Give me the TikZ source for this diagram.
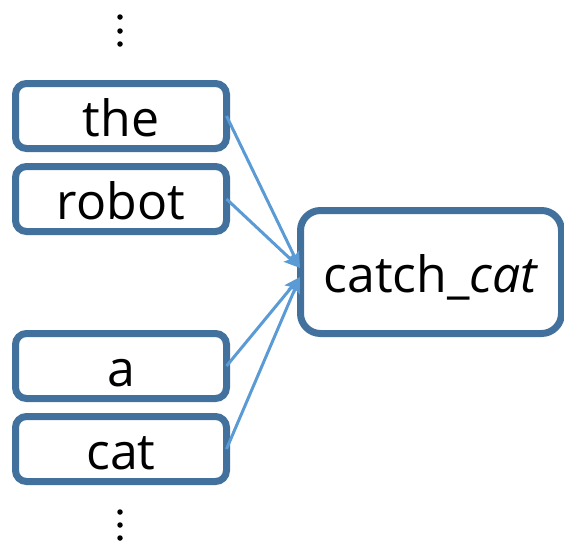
\documentclass[tikz,border=0pt]{standalone}
\usepackage{fontspec}
\setmainfont{Open Sans}
\usetikzlibrary{arrows.meta}
\definecolor{boxc}{HTML}{41719C}
\definecolor{arrc}{HTML}{5B9BD5}
\begin{document}
\begin{tikzpicture}[x=1pt,y=-1pt,
  word/.style={draw=boxc,line width=7pt,rounded corners=11pt,minimum width=211pt,minimum height=65pt,inner sep=0pt,outer sep=0pt,font=\fontsize{50}{58}\selectfont,text height=41pt,text depth=0pt},
  big/.style={draw=boxc,line width=7pt,rounded corners=20pt,minimum width=261pt,minimum height=123pt,inner sep=0pt,outer sep=0pt,font=\fontsize{50}{58}\selectfont,text height=40pt,text depth=0pt},
  conn/.style={draw=arrc,line width=3pt,-{Stealth[length=16pt,width=13pt,inset=3pt]}},
  dot/.style={fill=black,circle,inner sep=0pt,minimum size=5.5pt}]
\useasboundingbox (0,0) rectangle (564,541);
\node[word] (the) at (121,116) {the};
\node[word] (robot) at (121,199) {robot};
\node[word] (a) at (121,366) {a};
\node[word] (cat) at (121,449) {cat};
\node[big] (catch) at (431,272) {catch\_\textit{cat}};
\coordinate (t1) at (300,268);
\coordinate (t2) at (300,277);
\draw[conn] (the.east) -- (t1);
\draw[conn] (robot.east) -- (t1);
\draw[conn] (a.east) -- (t2);
\draw[conn] (cat.east) -- (t2);
\node[dot] (d1) at (120,17) {};
\node[dot] (d2) at (120,31) {};
\node[dot] (d3) at (120,44) {};
\node[dot] (d4) at (120,512) {};
\node[dot] (d5) at (120,525) {};
\node[dot] (d6) at (120,538) {};
\end{tikzpicture}
\end{document}
